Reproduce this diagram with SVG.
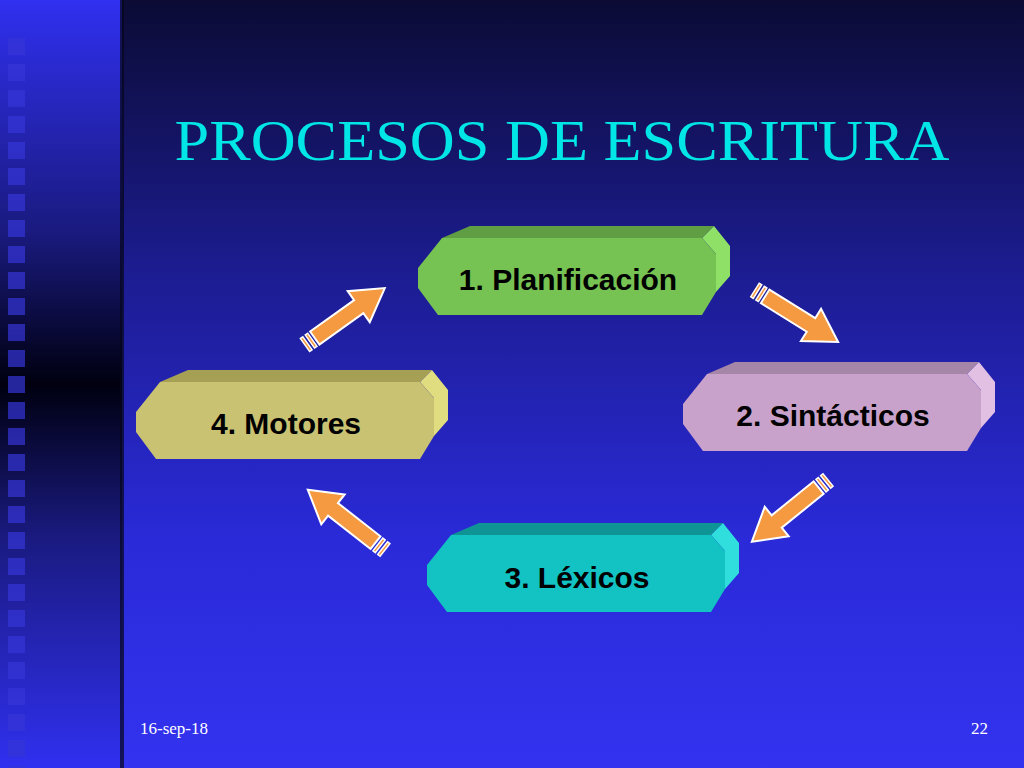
<svg xmlns="http://www.w3.org/2000/svg" xmlns:xlink="http://www.w3.org/1999/xlink" width="1024" height="768" viewBox="0 0 1024 768">
<defs>
<linearGradient id="bg" x1="0" y1="0" x2="0" y2="1">
<stop offset="0" stop-color="#0b0b35"/><stop offset="0.35" stop-color="#1c1c90"/><stop offset="0.7" stop-color="#2a2ad8"/><stop offset="1" stop-color="#3333f0"/>
</linearGradient>
<linearGradient id="strip" x1="0" y1="0" x2="0" y2="1">
<stop offset="0" stop-color="#3030f0"/><stop offset="0.3" stop-color="#1a1a80"/><stop offset="0.5" stop-color="#000010"/><stop offset="0.7" stop-color="#1a1a80"/><stop offset="1" stop-color="#3030f0"/>
</linearGradient>
<pattern id="sq" x="8" y="38" width="26" height="26" patternUnits="userSpaceOnUse">
<rect x="0" y="0" width="17" height="17" fill="#3535d8" opacity="0.7"/>
</pattern>
<g id="arrow">
<rect x="0" y="-8" width="3" height="16" fill="#f59a40" stroke="#fff" stroke-width="1.5"/>
<rect x="6" y="-8" width="3" height="16" fill="#f59a40" stroke="#fff" stroke-width="1.5"/>
<polygon points="12,-8 66,-8 66,-19 98,0 66,19 66,8 12,8" fill="#f59a40" stroke="#fff" stroke-width="2"/>
</g>
</defs>
<style>
.lbl{font-family:"Liberation Sans",Arial,sans-serif;font-weight:bold;font-size:30px;fill:#000;text-anchor:middle}
.ft{font-family:"Liberation Serif","Times New Roman",serif;font-size:17px;fill:#fff}
</style>
<rect width="1024" height="768" fill="url(#bg)"/>
<rect x="0" y="0" width="122" height="768" fill="url(#strip)"/>
<rect x="8" y="38" width="17" height="730" fill="url(#sq)"/>
<rect x="120" y="0" width="4" height="768" fill="#05051a" opacity="0.7"/>
<text x="562" y="160" font-family="Liberation Serif,'Times New Roman',serif" font-size="58" fill="#00e5e5" text-anchor="middle" textLength="775" lengthAdjust="spacingAndGlyphs">PROCESOS DE ESCRITURA</text>

<g id="connectors">
<use xlink:href="#arrow" transform="translate(305,345) rotate(-35.5)"/>
<use xlink:href="#arrow" transform="translate(755,290) rotate(32)"/>
<use xlink:href="#arrow" transform="translate(828,480) rotate(141)"/>
<use xlink:href="#arrow" transform="translate(385,550) rotate(218)"/>
</g>

<g id="node1" transform="translate(418,226)">
<polygon points="24,12 52,0 296,0 284,12" fill="#5f9e42"/>
<polygon points="284,12 296,0 312,20 312,50 298,66 298,28" fill="#8ee066"/>
<polygon points="0,42 24,12 284,12 298,28 298,66 284,89 20,89 0,62" fill="#76c252"/>
<text class="lbl" x="150" y="64">1. Planificación</text>
</g>
<g id="node2" transform="translate(683,362)">
<polygon points="24,12 52,0 296,0 284,12" fill="#a585a8"/>
<polygon points="284,12 296,0 312,20 312,50 298,66 298,28" fill="#e2c0e4"/>
<polygon points="0,42 24,12 284,12 298,28 298,66 284,89 20,89 0,62" fill="#c9a2cb"/>
<text class="lbl" x="150" y="64">2. Sintácticos</text>
</g>
<g id="node3" transform="translate(427,523)">
<polygon points="24,12 52,0 296,0 284,12" fill="#0e9494"/>
<polygon points="284,12 296,0 312,20 312,50 298,66 298,28" fill="#30dede"/>
<polygon points="0,42 24,12 284,12 298,28 298,66 284,89 20,89 0,62" fill="#13c2c2"/>
<text class="lbl" x="150" y="65">3. Léxicos</text>
</g>
<g id="node4" transform="translate(136,370)">
<polygon points="24,12 52,0 296,0 284,12" fill="#a6a055"/>
<polygon points="284,12 296,0 312,20 312,50 298,66 298,28" fill="#e0dc80"/>
<polygon points="0,42 24,12 284,12 298,28 298,66 284,89 20,89 0,62" fill="#c8c272"/>
<text class="lbl" x="150" y="64">4. Motores</text>
</g>

<text class="ft" x="140" y="734">16-sep-18</text>
<text class="ft" x="988" y="734" text-anchor="end">22</text>
</svg>
